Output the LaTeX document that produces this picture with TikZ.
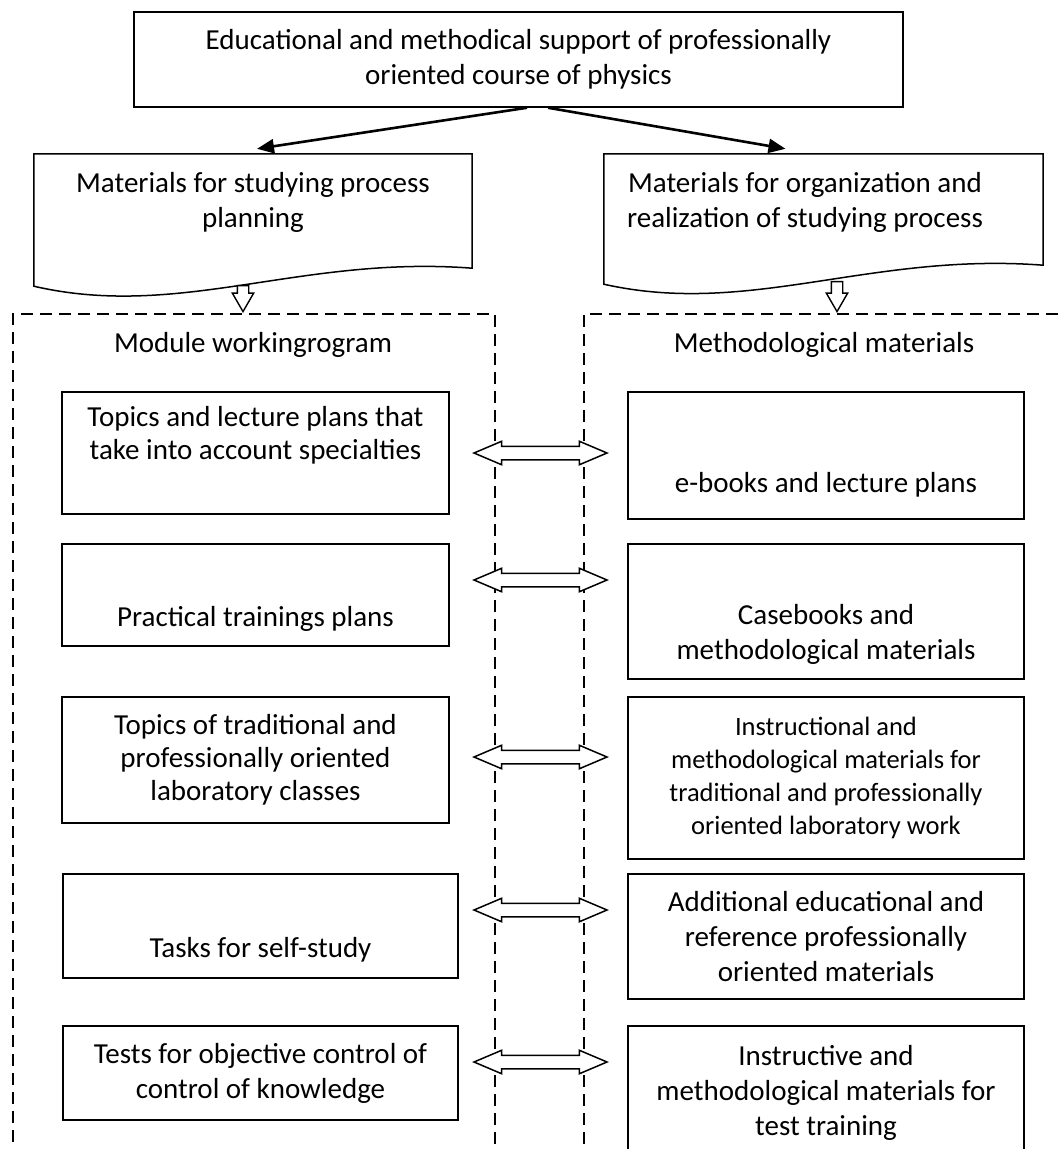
\documentclass[tikz,border=0pt]{standalone}
\usepackage{fontspec}
\setmainfont{Carlito}
\usetikzlibrary{arrows.meta,shapes.arrows}

\begin{document}
\begin{tikzpicture}[
    x = 1pt, y = -1pt,
    font = \fontsize{29}{35}\selectfont,
    box/.style     = {draw, line width=1.5pt, inner sep=0pt, align=center},
    txt/.style     = {align=center, inner sep=0pt},
    frame/.style   = {draw, dash pattern=on 12pt off 7pt, line width=2pt,
                      inner sep=0pt},
    arr/.style     = {-{Triangle[length=17pt,width=14pt]}, line width=2.6pt},
    dblarr/.style  = {double arrow, draw, fill=white, line width=1.5pt,
                      inner sep=6pt, minimum height=133pt, minimum width=22pt,
                      double arrow head extend=5pt, double arrow tip angle=46},
    downarr/.style = {single arrow, draw, fill=white, line width=1.4pt,
                      inner sep=5pt, minimum width=20pt,
                      single arrow head extend=5pt, single arrow tip angle=60,
                      rotate=-90, anchor=tip},
    tight/.style   = {font=\fontsize{29}{33}\selectfont},
]
\useasboundingbox (0,0) rectangle (1060,1149);
\clip (0,0) rectangle (1060,1149);

% --- dashed containers (open at the bottom) ---
\node[frame, minimum width=482pt, minimum height=880pt, anchor=north west]
    (lcont) at (12,313) {};
\node[frame, minimum width=500pt, minimum height=880pt, anchor=north west]
    (rcont) at (583,313) {};
\node[txt] (lhead) at (253,345) {Module workingrogram};
\node[txt] (rhead) at (824,345) {Methodological materials};

% --- root ---
\node[box, minimum width=769pt, minimum height=95pt] (top) at (518.5,59.5)
    {Educational and methodical support of professionally\\oriented course of physics};

% --- two document shapes ---
\node[minimum width=438pt, minimum height=142pt, inner sep=0pt] (plan) at (253,225) {};
\draw[line width=1.5pt] (plan.north west) -- (plan.north east)
    -- ([yshift=28pt]plan.south east) .. controls (300,255) and (180,320)
    .. ([yshift=10pt]plan.south west) -- cycle;
\node[txt] (plantxt) at (253,202.5) {Materials for studying process\\planning};

\node[minimum width=439pt, minimum height=139pt, inner sep=0pt] (real) at (823.5,223.5) {};
\draw[line width=1.5pt] (real.north west) -- (real.north east)
    -- ([yshift=28pt]real.south east) .. controls (870,252) and (750,317)
    .. ([yshift=9pt]real.south west) -- cycle;
\node[txt] (realtxt) at (805,202.5) {Materials for organization and\\realization of studying process};

\draw[arr] ([xshift=8.5pt]top.south) -- ([xshift=4pt,yshift=5pt]plan.north);
\draw[arr] ([xshift=29.5pt]top.south) -- ([xshift=-38pt,yshift=5pt]real.north);

\node[downarr, minimum height=26pt] (d1) at (243,313) {};
\node[downarr, minimum height=30pt] (d2) at (837,313) {};

% --- left column: working program ---
\node[box, minimum width=387pt, minimum height=122pt] (l1) at (255.5,453) {};
\node[txt, tight] (l1txt) at (255.5,435.5) {Topics and lecture plans that\\take into account specialties};
\node[box, minimum width=387pt, minimum height=102pt] (l2) at (255.5,595) {};
\node[txt] (l2txt) at (255.5,619) {Practical trainings plans};
\node[box, tight, minimum width=387pt, minimum height=126pt] (l3) at (255.5,760)
    {Topics of traditional and\\professionally oriented\\laboratory classes};
\node[box, minimum width=395pt, minimum height=104pt] (l4) at (260.5,926) {};
\node[txt] (l4txt) at (260.5,950) {Tasks for self-study};
\node[box, minimum width=395pt, minimum height=94pt] (l5) at (260.5,1073)
    {Tests for objective control of\\control of knowledge};

% --- right column: methodological materials ---
\node[box, minimum width=396pt, minimum height=127pt] (r1) at (826,455.5) {};
\node[txt] (r1txt) at (826,485) {e-books and lecture plans};
\node[box, minimum width=396pt, minimum height=135pt] (r2) at (826,611.5) {};
\node[txt] (r2txt) at (826,634.5) {Casebooks and\\methodological materials};
\node[box, font=\fontsize{26.5}{33}\selectfont, minimum width=396pt,
      minimum height=162pt] (r3) at (826,778)
    {Instructional and\\methodological materials for\\traditional and professionally\\oriented laboratory work};
\node[box, minimum width=396pt, minimum height=125pt] (r4) at (826,936.5)
    {Additional educational and\\reference professionally\\oriented materials};
\node[box, minimum width=396pt, minimum height=134pt] (r5) at (826,1093)
    {Instructive and\\methodological materials for\\test training};

% --- links between the columns ---
\foreach \y/\n in {453/1, 580/2, 757/3, 910/4, 1062/5}
    \node[dblarr] (a\n) at (540.5,\y) {};

\end{tikzpicture}
\end{document}
